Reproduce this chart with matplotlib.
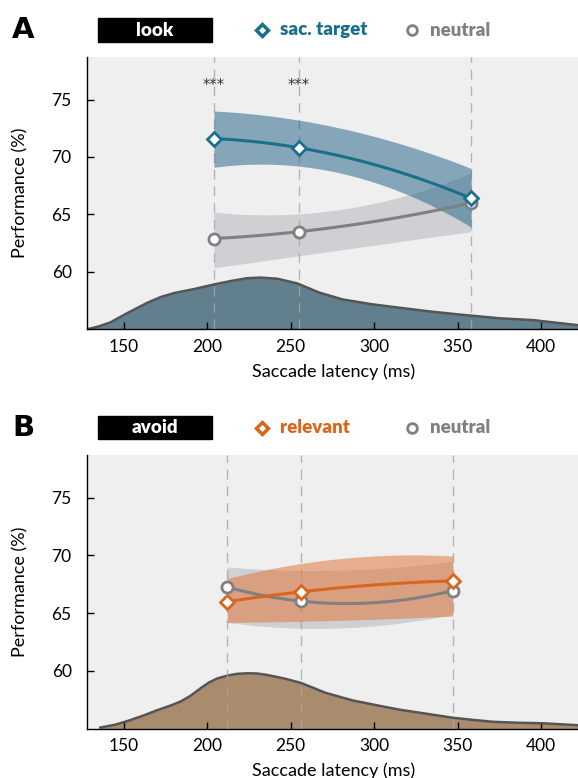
import numpy as np
import matplotlib.pyplot as plt
from matplotlib.patches import Rectangle
from matplotlib.lines import Line2D

plt.rcParams['font.family'] = ['Lato', 'DejaVu Sans']

# -----------------------------
# DATA
# -----------------------------

# panel A: look
lat_a = [204, 255, 358]
target_a = [71.6, 70.8, 66.4]
target_a_hi = [74.0, 73.2, 69.0]
target_a_lo = [69.1, 69.2, 63.9]
neutral_a = [62.9, 63.5, 66.0]
neutral_a_hi = [65.2, 65.05, 68.6]
neutral_a_lo = [60.35, 61.4, 63.5]
sig_a = [204, 255]

dens_lat_a = [128, 135, 142, 152, 164, 172, 180, 192, 204, 214, 224, 232,
              242, 254, 267, 281, 299, 315, 331, 350, 375, 395, 422]
dens_a = [55.0, 55.25, 55.6, 56.4, 57.3, 57.8, 58.15, 58.5, 58.9, 59.2,
          59.45, 59.5, 59.4, 58.99, 58.2, 57.6, 57.17, 56.88, 56.59, 56.3,
          55.96, 55.8, 55.36]

# panel B: avoid
lat_b = [212, 256, 347]
relevant_b = [66.0, 66.85, 67.8]
relevant_b_hi = [68.0, 69.3, 69.95]
relevant_b_lo = [64.2, 64.3, 64.75]
neutral_b = [67.26, 66.05, 66.95]
neutral_b_hi = [69.0, 68.7, 69.5]
neutral_b_lo = [64.2, 63.7, 64.9]

dens_lat_b = [136, 145, 153, 162, 170, 178, 184, 190, 196, 201, 206, 212,
              218, 224, 230, 236, 246, 256, 271, 287, 299, 315, 331, 347,
              360, 371, 385, 401, 422]
dens_b = [55.1, 55.35, 55.7, 56.15, 56.6, 57.0, 57.35, 57.85, 58.5, 59.0,
          59.35, 59.6, 59.75, 59.8, 59.78, 59.65, 59.35, 58.97, 58.1, 57.45,
          57.1, 56.65, 56.3, 55.95, 55.75, 55.6, 55.52, 55.47, 55.3]

yticks = [60, 65, 70, 75]
xticks = [150, 200, 250, 300, 350, 400]

# -----------------------------
# COLOURS
# -----------------------------
bg = '#efefef'
teal = '#1b6f8c'
orange = '#d9661c'
grey = '#808080'


def smooth(x, y):
    # quadratic curve through the three latency bins
    c = np.polyfit(x, y, 2)
    xs = np.linspace(x[0], x[-1], 100)
    return xs, np.polyval(c, xs)


def panel(ax, lat, main, main_hi, main_lo, neu, neu_hi, neu_lo,
          dlat, dens, dcol, mcol, bandcol, sig=None):
    ax.set_facecolor(bg)
    ax.fill_between(dlat, 55, dens, color=dcol, zorder=1, lw=0)
    ax.plot(dlat, dens, color='#555555', lw=1.8, zorder=2,
            solid_joinstyle='round')

    for x in lat:
        ax.axvline(x, color='#a5a5a5', ls=(0, (7, 5)), lw=1, alpha=0.8, zorder=3)

    xs, hi = smooth(lat, neu_hi)
    _, lo = smooth(lat, neu_lo)
    ax.fill_between(xs, lo, hi, color='#a9abb2', alpha=0.45, lw=0, zorder=4)
    xs, hi = smooth(lat, main_hi)
    _, lo = smooth(lat, main_lo)
    ax.fill_between(xs, lo, hi, color=bandcol, alpha=0.55, lw=0, zorder=5)

    xs, ys = smooth(lat, neu)
    ax.plot(xs, ys, color=grey, lw=2.2, zorder=6)
    ax.plot(lat, neu, 'o', ms=8, mfc='white', mec=grey, mew=2, zorder=7)
    xs, ys = smooth(lat, main)
    ax.plot(xs, ys, color=mcol, lw=2.2, zorder=8)
    ax.plot(lat, main, 'D', ms=7, mfc='white', mec=mcol, mew=2, zorder=9)

    if sig:
        for x in sig:
            ax.text(x, 76.2, '***', ha='center', va='center', fontsize=10.5,
                    color='#333333', zorder=10, family='DejaVu Sans')

    ax.set_xlim(128, 422)
    ax.set_ylim(55, 78.7)
    ax.set_yticks(yticks)
    ax.set_xticks(xticks)
    ax.tick_params(direction='in', length=5, width=1, labelsize=12.5)
    ax.tick_params(axis='x', pad=7)
    ax.tick_params(axis='y', pad=11)
    for s in ['top', 'right']:
        ax.spines[s].set_visible(False)
    ax.spines['left'].set_linewidth(1)
    ax.spines['bottom'].set_linewidth(1)
    ax.set_xlabel('Saccade latency (ms)', fontsize=13)
    ax.set_ylabel('Performance (%)', fontsize=13)
    ax.xaxis.set_label_coords(0.503, -0.154)
    ax.xaxis.label.set_va('center')
    ax.yaxis.set_label_coords(-0.136, 0.5)
    ax.yaxis.label.set_va('center')


def header(fig, yc, letter, cond, legend, lcol):
    fig.text(12 / 578, yc, letter, fontsize=21, fontweight='heavy',
             ha='left', va='center', family='DejaVu Sans')
    fig.patches.append(Rectangle((98 / 578, yc - 11.5 / 778), 114 / 578, 23 / 778,
                                 transform=fig.transFigure, color='black'))
    fig.text(155 / 578, yc, cond, color='white', fontsize=13.5,
             fontweight='heavy', ha='center', va='center')
    fig.add_artist(Line2D([262 / 578], [yc], marker='D', ms=6.5, mfc='none',
                          mec=lcol, mew=2.5, transform=fig.transFigure))
    fig.text(280 / 578, yc, legend, color=lcol, fontsize=13.5,
             fontweight='heavy', ha='left', va='center')
    fig.add_artist(Line2D([412 / 578], [yc], marker='o', ms=7, mfc='none',
                          mec=grey, mew=2, transform=fig.transFigure))
    fig.text(430 / 578, yc, 'neutral', color=grey, fontsize=13.5,
             fontweight='heavy', ha='left', va='center')


fig = plt.figure(figsize=(5.78, 7.78), dpi=100)
ax1 = fig.add_axes([87 / 578, 1 - 329.3 / 778, 1 - 87 / 578, (329.3 - 57) / 778])
ax2 = fig.add_axes([87 / 578, 1 - 728.7 / 778, 1 - 87 / 578, (728.7 - 455) / 778])

panel(ax1, lat_a, target_a, target_a_hi, target_a_lo,
      neutral_a, neutral_a_hi, neutral_a_lo,
      dens_lat_a, dens_a, '#627f8d', teal, '#2e6a8c', sig=sig_a)
panel(ax2, lat_b, relevant_b, relevant_b_hi, relevant_b_lo,
      neutral_b, neutral_b_hi, neutral_b_lo,
      dens_lat_b, dens_b, '#a88c6d', orange, '#e07a3e')

header(fig, 1 - 30 / 778, 'A', 'look', 'sac. target', teal)
header(fig, 1 - 427.5 / 778, 'B', 'avoid', 'relevant', orange)

fig.savefig('out.png', dpi=100)
